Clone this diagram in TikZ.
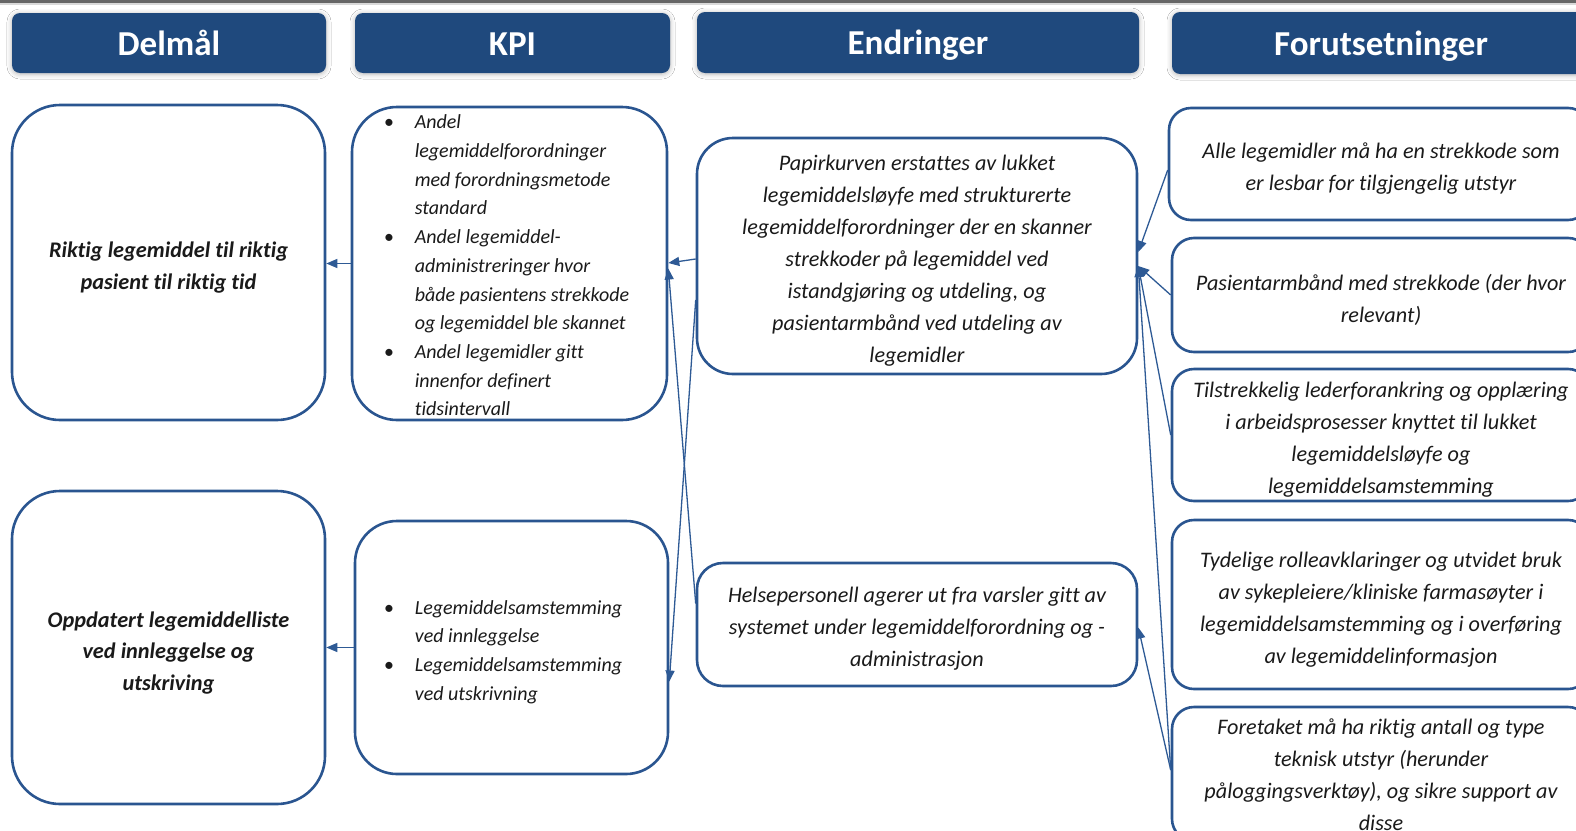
\documentclass[tikz,border=0pt]{standalone}
\usepackage{fontspec}
\setmainfont{Carlito}[Ligatures={NoCommon}]
\usetikzlibrary{arrows.meta,calc,shadows.blur}

\definecolor{hdrblue}{HTML}{1F497D}
\definecolor{boxblue}{HTML}{2A5590}
\definecolor{arrblue}{HTML}{2E5A95}
\definecolor{txtgray}{HTML}{1A1A1A}

% bullet and indent for the KPI lists
\newcommand{\kb}{\makebox[27pt][l]{\hspace{-4pt}\textbullet}}
\newcommand{\ki}{\makebox[27pt]{}}

\tikzset{
  header/.style={fill=hdrblue, draw=none, rounded corners=8pt, text=white,
    inner sep=0pt, text height=24.5pt, text depth=0pt,
    font=\bfseries\fontsize{35}{40}\selectfont,
    blur shadow={shadow xshift=0pt, shadow yshift=-1pt, shadow blur radius=5pt, shadow opacity=30}},
  card/.style={draw=boxblue, line width=2.6pt, fill=white, inner sep=0pt},
  bodytxt/.style={font=\itshape\fontsize{22.2}{32}\selectfont, align=center,
    inner sep=0pt, text=txtgray},
  goaltxt/.style={font=\bfseries\itshape\fontsize{22.3}{31.5}\selectfont, align=center,
    inner sep=0pt, text=txtgray},
  kpitxt/.style={font=\itshape\fontsize{20}{28.7}\selectfont, align=left,
    inner sep=0pt, text=txtgray},
  link/.style={draw=arrblue, line width=1.3pt, -{Triangle[length=11pt,width=9pt]}},
}

\begin{document}
\begin{tikzpicture}[x=1pt,y=-1pt]
\useasboundingbox (0,0) rectangle (1576,830);
\clip (0,0) rectangle (1576,830);
\fill[white] (0,0) rectangle (1576,830);
% thin frame line along the top edge
\fill[gray!80!black] (0,0) rectangle (1576,2.5);
\fill[gray!30] (0,2.5) rectangle (1576,5);

% column headers
\node[header, minimum width=314pt, minimum height=60pt] (h1) at (169,43) {Delmål};
\node[header, minimum width=315pt, minimum height=60pt] (h2) at (512.5,43) {KPI};
\node[header, minimum width=442pt, minimum height=61pt] (h3) at (918,42.5) {Endringer};
\node[header, minimum width=418pt, minimum height=62pt] (h4) at (1381,43) {Forutsetninger};

% Delmål
\node[card, rounded corners=48pt, minimum width=313pt, minimum height=315pt] (d1) at (168.5,262.5) {};
\node[goaltxt] (d1t) at ($(d1)+(0,5)$) {Riktig legemiddel til riktig\\pasient til riktig tid};
\node[card, rounded corners=48pt, minimum width=313pt, minimum height=313pt] (d2) at (168.5,647.5) {};
\node[goaltxt] (d2t) at ($(d2)+(0,5.5)$) {Oppdatert legemiddelliste\\ved innleggelse og\\utskriving};

% KPI
\node[card, rounded corners=45pt, minimum width=315pt, minimum height=313pt] (k1) at (509.5,263.5) {};
\node[kpitxt] (k1t) at (508.5,265.5)
  {\kb Andel\\
   \ki legemiddelforordninger\\
   \ki med forordningsmetode\\
   \ki standard\\
   \kb Andel legemiddel-\\
   \ki administreringer hvor\\
   \ki både pasientens strekkode\\
   \ki og legemiddel ble skannet\\
   \kb Andel legemidler gitt\\
   \ki innenfor definert\\
   \ki tidsintervall};
\node[card, rounded corners=42pt, minimum width=313pt, minimum height=253pt] (k2) at (511.5,647.5) {};
\node[kpitxt] (k2t) at (505,652)
  {\kb Legemiddelsamstemming\\
   \ki ved innleggelse\\
   \kb Legemiddelsamstemming\\
   \ki ved utskrivning};

% Endringer
\node[card, rounded corners=36pt, minimum width=440pt, minimum height=236pt] (e1) at (917,256) {};
\node[bodytxt] (e1t) at ($(e1)+(0,4.5)$)
  {Papirkurven erstattes av lukket\\
   legemiddelsløyfe med strukturerte\\
   legemiddelforordninger der en skanner\\
   strekkoder på legemiddel ved\\
   istandgjøring og utdeling, og\\
   pasientarmbånd ved utdeling av\\
   legemidler};
\node[card, rounded corners=26pt, minimum width=440pt, minimum height=123pt] (e2) at (917,624.5) {};
\node[bodytxt] (e2t) at ($(e2)+(0,4)$)
  {Helsepersonell agerer ut fra varsler gitt av\\
   systemet under legemiddelforordning og -\\
   administrasjon};

% Forutsetninger
\node[card, rounded corners=22pt, minimum width=421pt, minimum height=112pt] (f1) at (1379.5,164) {};
\node[bodytxt] (f1t) at (1381,169)
  {Alle legemidler må ha en strekkode som\\er lesbar for tilgjengelig utstyr};
\node[card, rounded corners=22pt, minimum width=418pt, minimum height=114pt] (f2) at (1381,295) {};
\node[bodytxt] (f2t) at ($(f2)+(0,5)$)
  {Pasientarmbånd med strekkode (der hvor\\relevant)};
\node[card, rounded corners=22pt, minimum width=418pt, minimum height=132pt] (f3) at (1381,435) {};
\node[bodytxt] (f3t) at ($(f3)+(0,5)$)
  {Tilstrekkelig lederforankring og opplæring\\
   i arbeidsprosesser knyttet til lukket\\
   legemiddelsløyfe og\\
   legemiddelsamstemming};
\node[card, rounded corners=22pt, minimum width=418pt, minimum height=169pt] (f4) at (1381,604.5) {};
\node[bodytxt] (f4t) at ($(f4)+(0,5)$)
  {Tydelige rolleavklaringer og utvidet bruk\\
   av sykepleiere/kliniske farmasøyter i\\
   legemiddelsamstemming og i overføring\\
   av legemiddelinformasjon};
\node[card, rounded corners=22pt, minimum width=418pt, minimum height=134pt] (f5) at (1381,774) {};
\node[bodytxt] (f5t) at ($(f5)+(0,1)$)
  {Foretaket må ha riktig antall og type\\
   teknisk utstyr (herunder\\
   påloggingsverktøy), og sikre support av\\
   disse};

% connectors
\draw[link] (k1.west) -- (k1.west -| d1.east);
\draw[link] (k2.west) -- (k2.west -| d2.east);
\draw[link] ($(e1.west)+(0,3)$) -- ($(k1.east)+(0,-0.5)$);
\draw[link] ($(e1.west)+(0,44)$) -- ($(k2.east)+(0,34)$);
\draw[link] ($(e2.west)+(0,-21)$) -- ($(k1.east)+(0,5)$);
\draw[link] ($(f1.west)+(0,6)$) -- ($(e1.east)+(0,-4)$);
\draw[link] (f2.west) -- ($(e1.east)+(0,10)$);
\draw[link] (f3.west) -- ($(e1.east)+(0,10)$);
\draw[link] ($(f5.west)+(0,-4)$) -- ($(e1.east)+(0,10)$);
\draw[link] ($(f5.west)+(0,-4)$) -- ($(e2.east)+(0,3)$);
\end{tikzpicture}
\end{document}
